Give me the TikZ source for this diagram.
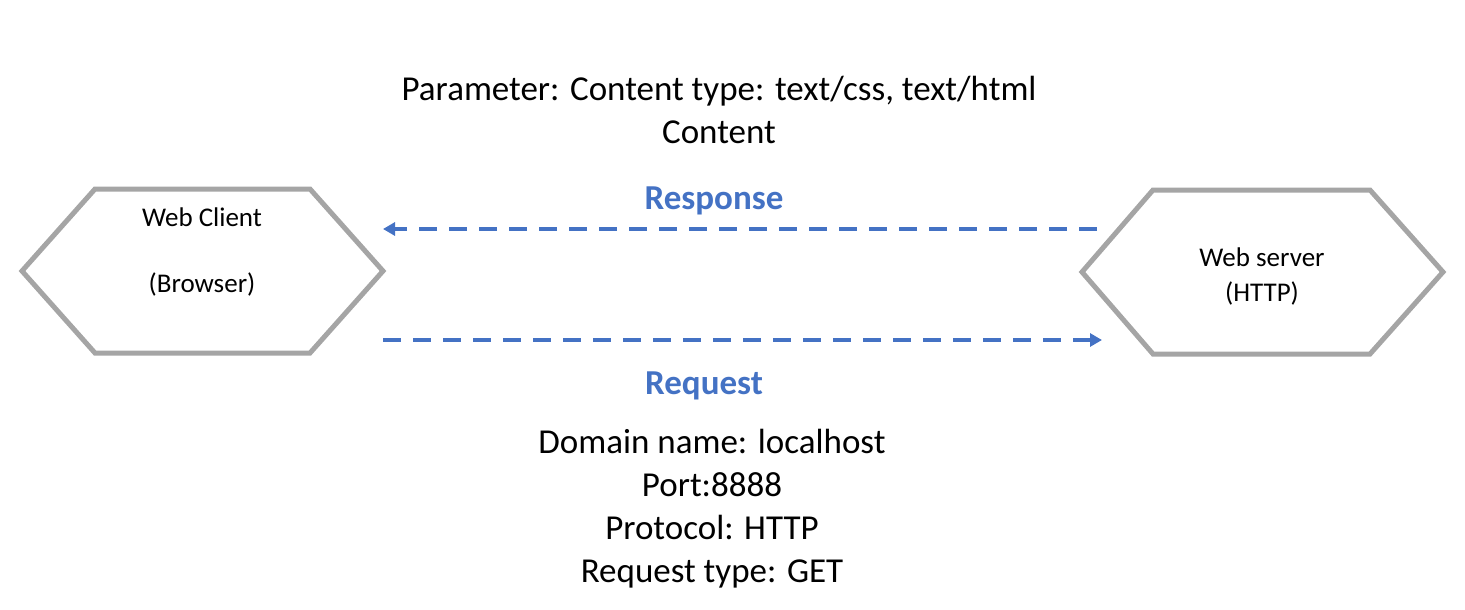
\documentclass[tikz,border=0pt]{standalone}
\usepackage{fontspec}
\setmainfont{Carlito}
\usetikzlibrary{arrows.meta}
\definecolor{hexgray}{HTML}{A5A5A5}
\definecolor{msblue}{HTML}{4472C4}
\tikzset{
  hexline/.style={draw=hexgray, line width=5pt, line join=miter},
  flow/.style={draw=msblue, line width=4pt, dash pattern=on 18pt off 12pt, -{Triangle[length=12pt,width=13pt]}},
  bigtext/.style={font=\fontsize{35pt}{43pt}\selectfont, align=center, inner sep=0pt},
  hextext/.style={font=\fontsize{27pt}{35pt}\selectfont, align=center, inner sep=0pt},
  flowlabel/.style={font=\fontsize{35pt}{40pt}\selectfont\bfseries, text=msblue, inner sep=0pt}
}
\begin{document}
\begin{tikzpicture}[x=1pt,y=-1pt]
\useasboundingbox (0,0) rectangle (1465,610);
% left hexagon
\draw[hexline] (22,271) -- (95,189) -- (310,189) -- (383,271) -- (310,353) -- (95,353) -- cycle;
% right hexagon
\draw[hexline] (1082,272) -- (1153,190) -- (1370,190) -- (1443,272) -- (1370,354) -- (1153,354) -- cycle;
\node[hextext] (client) at (202,252) {Web Client\\[31pt](Browser)};
\node[hextext] (server) at (1262,276) {Web server\\(HTTP)};
% connector end points
\coordinate (respStart) at (1097,229);
\coordinate (respEnd) at (383,229);
\coordinate (reqStart) at (383,340);
\coordinate (reqEnd) at (1102,340);
\draw[flow] (respStart) -- (respEnd);
\draw[flow] (reqStart) -- (reqEnd);
\node[flowlabel] (resp) at (714,201) {Response};
\node[flowlabel] (req) at (704,386) {Request};
\node[bigtext] (param) at (719,110) {Parameter: Content type: text/css, text/html\\Content};
\node[bigtext] (reqinfo) at (712,509) {Domain name: localhost\\Port:8888\\Protocol: HTTP\\Request type: GET};
\end{tikzpicture}
\end{document}
